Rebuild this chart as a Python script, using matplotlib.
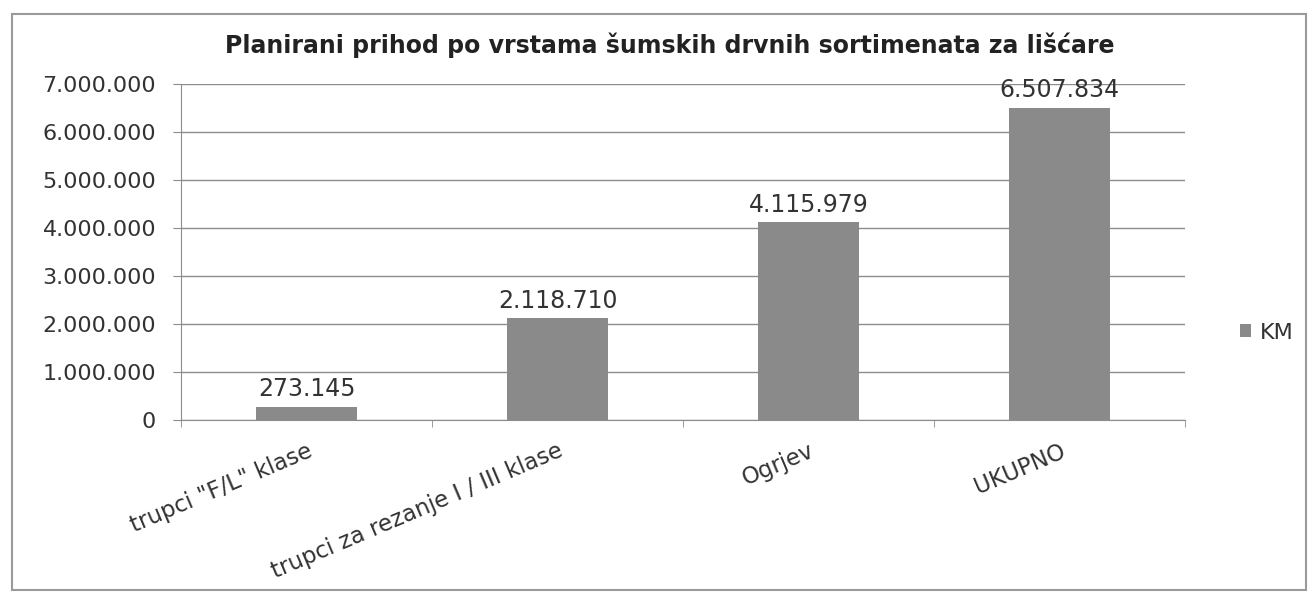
import matplotlib
matplotlib.use("Agg")
import matplotlib.pyplot as plt
from matplotlib.patches import Rectangle
from matplotlib.ticker import FuncFormatter, MultipleLocator
import numpy as np

categories = ['trupci "F/L" klase', "trupci za rezanje I / III klase", "Ogrjev", "UKUPNO"]
values = [273145, 2118710, 4115979, 6507834]
series_name = "KM"
title = "Planirani prihod po vrstama šumskih drvnih sortimenata za lišćare"

plt.rcParams["font.family"] = ["DejaVu Sans"]
TXT = "#333333"
BAR = "#8a8a8a"
GRID = "#8c8c8c"


def dots(v, _pos=None):
    return f"{int(round(v)):,}".replace(",", ".")


fig = plt.figure(figsize=(13.14, 6), dpi=100)
ax = fig.add_axes([0.1378, 0.30, 0.764, 0.56])

x = np.arange(len(categories))
bars = ax.bar(x, values, width=0.4, color=BAR, label=series_name, zorder=3)
for b, v in zip(bars, values):
    ax.text(b.get_x() + b.get_width() / 2, v + 120000, dots(v), ha="center", va="bottom",
            fontsize=17, color=TXT, zorder=4)

ax.set_xlim(-0.5, len(categories) - 0.5)
ax.set_ylim(0, 7000000)
ax.yaxis.set_major_locator(MultipleLocator(1000000))
ax.yaxis.set_major_formatter(FuncFormatter(dots))
ax.grid(axis="y", color=GRID, lw=1.0, zorder=0)

ax.set_xticks(x)
ax.set_xticklabels(categories, rotation=23, ha="right", va="top", rotation_mode="anchor",
                   fontsize=16.5, color=TXT)
ax.set_xticks(np.arange(len(categories) + 1) - 0.5, minor=True)
ax.tick_params(axis="x", which="major", length=0, pad=14)
ax.tick_params(axis="x", which="minor", length=5, color=GRID)
ax.tick_params(axis="y", length=6, color=GRID, labelsize=16, labelcolor=TXT, pad=12)

for s in ["top", "right"]:
    ax.spines[s].set_visible(False)
ax.spines["left"].set_color(GRID)
ax.spines["bottom"].set_color(GRID)

ax.legend(loc="center left", bbox_to_anchor=(1.035, 0.26), frameon=False, fontsize=16,
          handlelength=0.5, handleheight=0.5, handletextpad=0.4, labelcolor=TXT)

fig.text(0.51, 0.925, title, ha="center", va="center", fontsize=17, fontweight="bold", color="#222222")

# outer chart frame
fig.patches.append(Rectangle((0.009, 0.017), 0.985, 0.96, transform=fig.transFigure,
                             fill=False, edgecolor="#9a9a9a", lw=1.5))

fig.savefig("out.png", dpi=100)
